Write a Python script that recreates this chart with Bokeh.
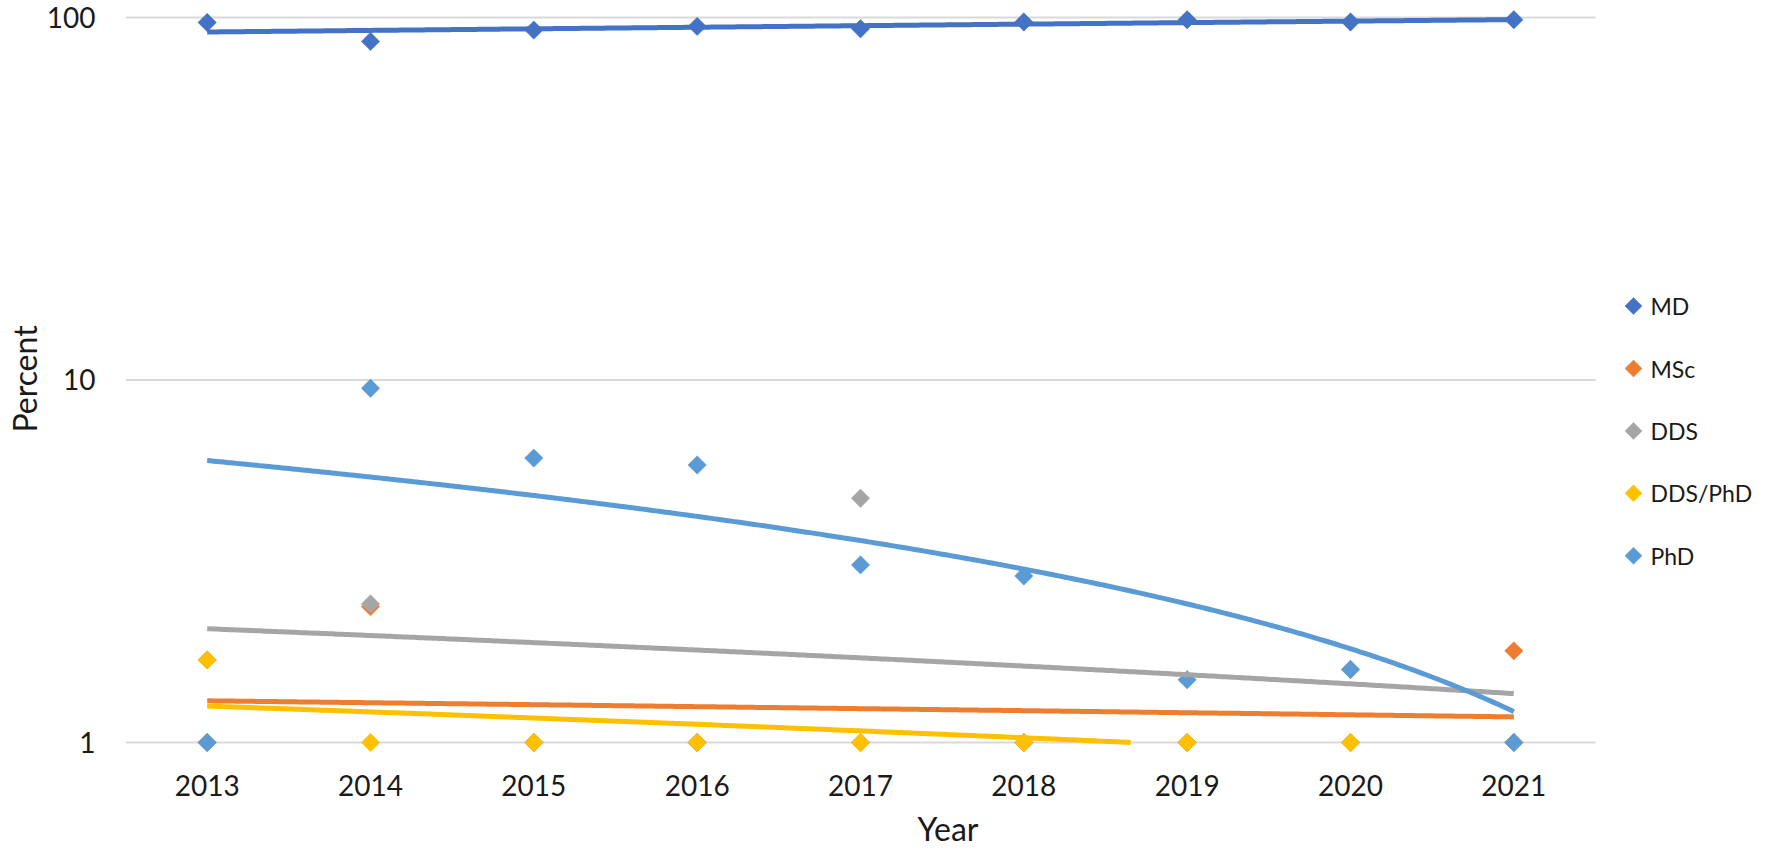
import numpy as np
from bokeh.plotting import figure
from bokeh.models import Range1d, FixedTicker, NumeralTickFormatter
from bokeh.core.properties import value
from bokeh.embed import file_html
from bokeh.resources import INLINE

# ---- data ----
years = [2013, 2014, 2015, 2016, 2017, 2018, 2019, 2020, 2021]
md = [96.9, 85.9, 92.3, 94.5, 93.1, 97.2, 98.6, 97.2, 98.6]
msc = [1.0, 2.37, 1.0, 1.0, 1.0, 1.0, 1.0, 1.0, 1.79]
dds = [1.69, 2.41, 1.0, 1.0, 4.72, 1.0, 1.0, 1.59, 1.0]
dds_phd = [1.69, 1.0, 1.0, 1.0, 1.0, 1.0, 1.0, 1.0, 1.0]
phd = [1.0, 9.49, 6.09, 5.83, 3.09, 2.88, 1.49, 1.59, 1.0]
series_names = ["MD", "MSc", "DDS", "DDS/PhD", "PhD"]
series_values = [md, msc, dds, dds_phd, phd]
colors = ["#4472C4", "#ED7D31", "#A5A5A5", "#FFC000", "#5B9BD5"]
y_ticks = [1, 10, 100]

FONT = "Lato"
TXT = "#1a1a1a"

# ---- layout (pixels) ----
W, H = 1770, 850
LEFT, TOP, BOTTOM_BORDER = 125, 3, 95
X0, X1 = 2012.5, 2021.5            # category span of the plot area
X1_PX = 1595                        # pixel where the plot area ends
px_per_year = (X1_PX - LEFT) / (X1 - X0)
x_end = X1 + (W - X1_PX) / px_per_year   # frame runs to the right edge (legend lives there)
Y100_PX, Y1_PX = 17, 743
px_per_decade = (Y1_PX - Y100_PX) / 2.0
frame_bottom = H - BOTTOM_BORDER
y_start = 10 ** (-(frame_bottom - Y1_PX) / px_per_decade)
y_end = 10 ** (2 + (Y100_PX - TOP) / px_per_decade)


def x_at(px):
    return X0 + (px - LEFT) / px_per_year


def y_at(py):
    return 10 ** ((Y1_PX - py) / px_per_decade)


p = figure(width=W, height=H,
           x_range=Range1d(X0, x_end), y_range=Range1d(y_start, y_end),
           y_axis_type="log", output_backend="svg", toolbar_location=None,
           min_border_left=LEFT, min_border_right=0, min_border_top=TOP,
           min_border_bottom=BOTTOM_BORDER)
p.outline_line_color = None
p.background_fill_color = "white"
p.border_fill_color = "white"

# axes
p.xaxis.ticker = FixedTicker(ticks=years)
p.xaxis.formatter = NumeralTickFormatter(format="0")
p.yaxis.ticker = FixedTicker(ticks=y_ticks)
p.yaxis.formatter = NumeralTickFormatter(format="0")
for ax in (p.xaxis[0], p.yaxis[0]):
    ax.axis_line_color = None
    ax.major_tick_line_color = None
    ax.minor_tick_line_color = None
    ax.major_tick_out = 0
    ax.major_tick_in = 0
    ax.minor_tick_out = 0
    ax.minor_tick_in = 0
    ax.major_label_text_font = FONT
    ax.major_label_text_font_size = "28px"
    ax.major_label_text_color = TXT
    ax.axis_label_text_font = FONT
    ax.axis_label_text_font_size = "32px"
    ax.axis_label_text_font_style = "normal"
    ax.axis_label_text_color = TXT
p.xaxis.major_label_standoff = 20
p.yaxis.major_label_standoff = 30
p.xaxis.axis_label = "Year"
p.yaxis.axis_label = "Percent"
p.xaxis.axis_label_standoff = 10
p.yaxis.axis_label_standoff = 0
p.xgrid.grid_line_color = None
p.ygrid.grid_line_color = None

# horizontal gridlines across the category span only
p.segment(x0=[X0] * len(y_ticks), y0=y_ticks, x1=[X1] * len(y_ticks), y1=y_ticks,
          line_color="#D9D9D9", line_width=2)

# markers
for vals, c in zip(series_values, colors):
    p.scatter(years, vals, marker="square", angle=np.pi / 4, size=13,
              fill_color=c, line_color=c, line_width=0.5)

# linear trendlines (fitted to data, drawn over the markers)
xs = np.linspace(years[0], years[-1], 400)
for vals, c in zip(series_values, colors):
    b, a = np.polyfit(years, vals, 1)
    ys = a + b * xs
    keep = ys >= 1.0
    p.line(xs[keep], ys[keep], line_color=c, line_width=5)

# legend (diamond markers + labels) to the right of the plot area
LEG_MARK_PX, LEG_TEXT_PX, LEG_TOP_PX, LEG_STEP = 1633, 1650, 306, 62.5
leg_y = [y_at(LEG_TOP_PX + i * LEG_STEP) for i in range(len(series_names))]
p.scatter([x_at(LEG_MARK_PX)] * len(series_names), leg_y, marker="square", angle=np.pi / 4,
          size=12, fill_color=colors, line_color=colors, line_width=0.5)
p.text([x_at(LEG_TEXT_PX)] * len(series_names), leg_y, text=series_names,
       text_font=value(FONT), text_font_size="23px", text_color=TXT,
       text_align="left", text_baseline="middle")

open("out.html", "w").write(file_html(p, INLINE))
